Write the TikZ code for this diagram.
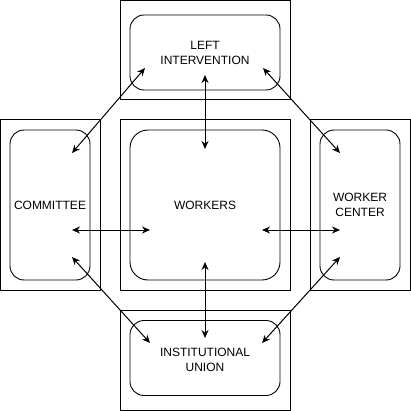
\documentclass[tikz,border=0pt]{standalone}
\usepackage{fontspec}
\setmainfont{Liberation Sans}
\usetikzlibrary{arrows.meta}
\begin{document}
\begin{tikzpicture}[x=1pt,y=-1pt,
  outerbox/.style={draw, line width=1pt, inner sep=0pt, outer sep=0pt},
  innerbox/.style={draw, line width=0.9pt, rounded corners=14pt, inner sep=0pt, outer sep=0pt, align=center, font=\fontsize{12pt}{15pt}\selectfont},
  link/.style={line width=1pt, {Stealth[length=8pt,width=7pt]}-{Stealth[length=8pt,width=7pt]}}]
\useasboundingbox (0,0) rectangle (411,411);
% outer boxes
\node[outerbox, minimum width=170pt, minimum height=99.5pt] (oTop) at (205,50.25) {};
\node[outerbox, minimum width=99.5pt, minimum height=170pt] (oLeft) at (50.25,205) {};
\node[outerbox, minimum width=170pt, minimum height=170pt] (oCenter) at (205,205) {};
\node[outerbox, minimum width=100pt, minimum height=170pt] (oRight) at (360,205) {};
\node[outerbox, minimum width=170pt, minimum height=100pt] (oBottom) at (205,360) {};
% inner boxes
\node[innerbox, minimum width=150pt, minimum height=75pt] (left) at (205,52.5) {LEFT\\INTERVENTION};
\node[innerbox, minimum width=80pt, minimum height=150pt] (committee) at (50,205) {COMMITTEE};
\node[innerbox, rounded corners=18pt, minimum width=150pt, minimum height=150pt] (workers) at (205,205) {WORKERS};
\node[innerbox, minimum width=80pt, minimum height=150pt] (center) at (360,205) {WORKER\\CENTER};
\node[innerbox, minimum width=150pt, minimum height=75pt] (union) at (205,358) {\raisebox{-3pt}[\height][\depth]{\begin{tabular}{@{}c@{}}INSTITUTIONAL\\UNION\end{tabular}}};
% arrow end points
\coordinate (tC) at (205,75);
\coordinate (cT) at (205,149);
\coordinate (cB) at (205,262);
\coordinate (bC) at (205,338);
\coordinate (lC) at (72,230);
\coordinate (cL) at (150,230);
\coordinate (cR) at (262,230);
\coordinate (rC) at (340,230);
\coordinate (tL) at (145,68);
\coordinate (lT) at (72,153);
\coordinate (tR) at (263,68);
\coordinate (rT) at (340,153);
\coordinate (lB) at (72,257);
\coordinate (bL) at (150,343);
\coordinate (rB) at (340,257);
\coordinate (bR) at (262,343);
% connectors
\draw[link] (tC) -- (cT);
\draw[link] (cB) -- (bC);
\draw[link] (lC) -- (cL);
\draw[link] (cR) -- (rC);
\draw[link] (tL) -- (lT);
\draw[link] (tR) -- (rT);
\draw[link] (lB) -- (bL);
\draw[link] (rB) -- (bR);
\end{tikzpicture}
\end{document}
